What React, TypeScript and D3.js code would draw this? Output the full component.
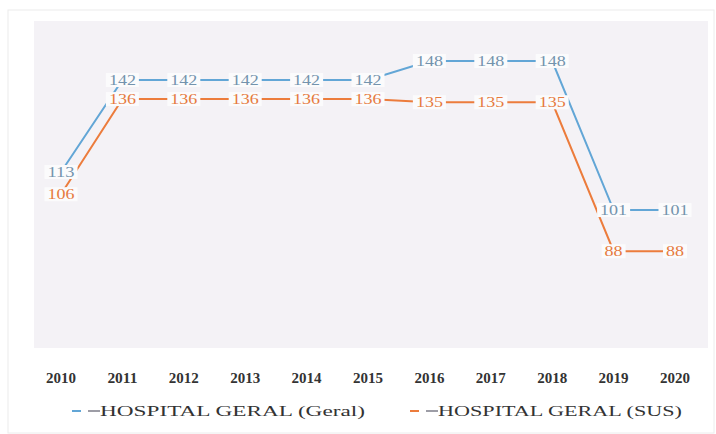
import React from "react";
import * as d3 from "d3";

const years = ["2010","2011","2012","2013","2014","2015","2016","2017","2018","2019","2020"];
const geral = [113,142,142,142,142,142,148,148,148,101,101];
const sus = [106,136,136,136,136,136,135,135,135,88,88];
const seriesNames = ["HOSPITAL GERAL (Geral)", "HOSPITAL GERAL (SUS)"];

const W = 716, H = 434;
const FONT = "'Liberation Serif', 'Times New Roman', serif";
const PLOT_BG = "#f4f2f6";
const LABEL_BG = "#fbfbfc";

export default function App() {
  const x = d3.scalePoint<string>().domain(years).range([61, 675]);
  const y = d3.scaleLinear().domain([60, 160]).range([340, 23]);
  const series = [
    { name: seriesNames[0], values: geral, line: "#62a6d6", text: "#7393ad" },
    { name: seriesNames[1], values: sus, line: "#ec7c3c", text: "#e67a3e" },
  ];
  const line = d3.line<number>().x((_, i) => x(years[i]) as number).y((v) => y(v));
  const lh = 14;
  return (
    <svg width={W} height={H} style={{ position: "absolute", left: 0, top: 0, background: "#fff" }}>
      <rect x={8} y={10} width={706} height={423} fill="#fff" stroke="#ececec" />
      <rect x={34} y={21} width={674} height={327} fill={PLOT_BG} />
      {series.map((s) => (
        <path key={s.name} d={line(s.values) || ""} fill="none" stroke={s.line} strokeWidth={2} />
      ))}
      {series.map((s) => (
        <g key={s.name + "l"}>
          {s.values.map((v, i) => {
            const cx = x(years[i]) as number;
            const cy = y(v);
            const tw = String(v).length * 9;
            const lw = tw + 6;
            return (
              <g key={i}>
                <rect x={cx - lw / 2} y={cy - lh / 2} width={lw} height={lh} fill={LABEL_BG} />
                <text x={cx - tw / 2} y={cy} dy="0.35em" textLength={tw} lengthAdjust="spacingAndGlyphs" fontFamily={FONT} fontSize={14} fill={s.text}>
                  {v}
                </text>
              </g>
            );
          })}
        </g>
      ))}
      {years.map((yr) => (
        <text key={yr} x={(x(yr) as number) - 15} y={378} dy="0.35em" textLength={30} lengthAdjust="spacingAndGlyphs" fontFamily={FONT} fontSize={15} fontWeight="bold" fill="#333">
          {yr}
        </text>
      ))}
      {series.map((s, i) => {
        const lx = i === 0 ? 72 : 410;
        const tx = i === 0 ? 100 : 438;
        const tl = i === 0 ? 265 : 244;
        return (
          <g key={s.name + "lg"}>
            <line x1={lx} x2={lx + 9} y1={411} y2={411} stroke={s.line} strokeWidth={2} />
            <line x1={lx + 16} x2={tx} y1={411} y2={411} stroke="#7d7d88" strokeWidth={1.5} />
            <text x={tx} y={411} dy="0.35em" textLength={tl} lengthAdjust="spacingAndGlyphs" fontFamily={FONT} fontSize={14} fill="#333">
              {s.name}
            </text>
          </g>
        );
      })}
    </svg>
  );
}
